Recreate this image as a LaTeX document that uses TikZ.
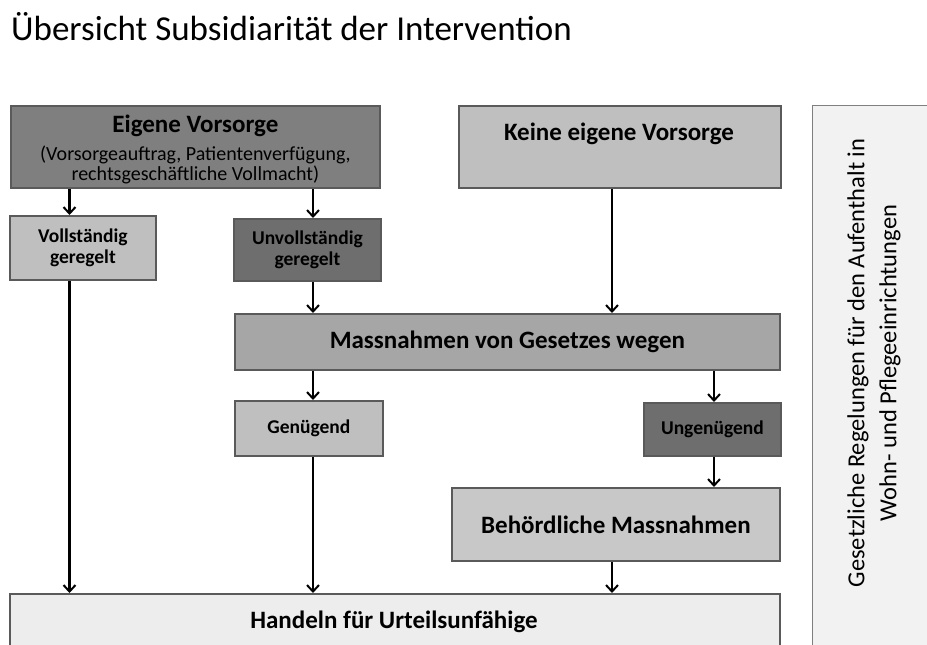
\documentclass[tikz,border=0pt]{standalone}
\usepackage{fontspec}
\setmainfont{Carlito}
\usetikzlibrary{arrows.meta}

\definecolor{edge}{HTML}{5A5A5A}
\definecolor{fdark}{HTML}{7F7F7F}
\definecolor{fdarker}{HTML}{6E6E6E}
\definecolor{flight}{HTML}{BFBFBF}
\definecolor{fmid}{HTML}{A6A6A6}
\definecolor{fpale}{HTML}{C8C8C8}
\definecolor{fwhite}{HTML}{EDEDED}
\definecolor{fside}{HTML}{F2F2F2}

\tikzset{
  box/.style={draw=edge, line width=1.8pt, rectangle, inner sep=0pt,
              anchor=north west, align=center, text=black},
  big/.style={font=\fontsize{25}{30}\selectfont\bfseries},
  small/.style={font=\fontsize{19.5}{21.5}\selectfont\bfseries},
  arr/.style={-{Straight Barb[length=6.5pt,width=12pt,line width=2pt]},
              line width=2.2pt, black},
}

\begin{document}
\begin{tikzpicture}[x=1pt, y=-1pt]
  \useasboundingbox (0,0) rectangle (927,645);

  % title
  \node[anchor=base west, inner sep=0pt, font=\fontsize{35}{40}\selectfont]
    (title) at (11,40) {Übersicht Subsidiarität der Intervention};

  % boxes (north west corner, width, height)
  \node[box, fill=fdark, minimum width=369pt, minimum height=82pt,
        font=\fontsize{20}{20}\selectfont] (eig) at (10,105)
    {\rule{0pt}{23pt}{\fontsize{25}{30}\selectfont\bfseries Eigene Vorsorge}\\[8pt]
     (Vorsorgeauftrag, Patientenverfügung,\\
     rechtsgeschäftliche Vollmacht)};

  \node[box, fill=flight, minimum width=322pt, minimum height=82pt] (keine) at (458,105) {};
  \node[anchor=center, inner sep=0pt, big] (keinetxt) at (619,134) {Keine eigene Vorsorge};

  \node[box, fill=fside, draw=fdark, line width=1.4pt, minimum width=130pt, minimum height=560pt]
    (side) at (812,105) {};
  \node[rotate=90, align=center, inner sep=0pt,
        font=\fontsize{24.5}{32}\selectfont] (sidetxt) at (874,363)
    {Gesetzliche Regelungen für den Aufenthalt in\\Wohn- und Pflegeeinrichtungen};

  \node[box, fill=flight, minimum width=146pt, minimum height=64pt, small] (voll) at (9,215)
    {Vollständig\\geregelt};
  \node[box, fill=fdarker, minimum width=147pt, minimum height=62pt, small] (unvoll) at (233,218)
    {Unvollständig\\geregelt};

  \node[box, fill=fmid, minimum width=545pt, minimum height=56pt, big] (gesetz) at (234,313)
    {Massnahmen von Gesetzes wegen};

  \node[box, fill=flight, minimum width=148pt, minimum height=55pt, small] (gen) at (234,400)
    {Genügend};
  \node[box, fill=fdarker, minimum width=137pt, minimum height=53pt, small] (ungen) at (643,402)
    {Ungenügend};

  \node[box, fill=fpale, minimum width=328pt, minimum height=73pt, big] (behoerd) at (451,487)
    {Behördliche Massnahmen};

  \node[box, fill=fwhite, minimum width=770pt, minimum height=70pt] (handeln) at (9,593) {};
  \node[anchor=center, inner sep=0pt, big] (handelntxt) at (394,622) {Handeln für Urteilsunfähige};

  % vertical lanes of the connectors
  \coordinate (l1) at (69.5,0);
  \coordinate (l2) at (313,0);
  \coordinate (l3) at (612,0);
  \coordinate (l4) at (714,0);

  % connectors
  \draw[arr] (eig.south -| l1) -- (voll.north -| l1);
  \draw[arr] (eig.south -| l2) -- (unvoll.north -| l2);
  \draw[arr] (voll.south -| l1) -- (handeln.north -| l1);
  \draw[arr] (unvoll.south -| l2) -- (gesetz.north -| l2);
  \draw[arr] (keine.south -| l3) -- (gesetz.north -| l3);
  \draw[arr] (gesetz.south -| l2) -- (gen.north -| l2);
  \draw[arr] (gen.south -| l2) -- (handeln.north -| l2);
  \draw[arr] (gesetz.south -| l4) -- (ungen.north -| l4);
  \draw[arr] (ungen.south -| l4) -- (behoerd.north -| l4);
  \draw[arr] (behoerd.south -| l3) -- (handeln.north -| l3);
\end{tikzpicture}
\end{document}
